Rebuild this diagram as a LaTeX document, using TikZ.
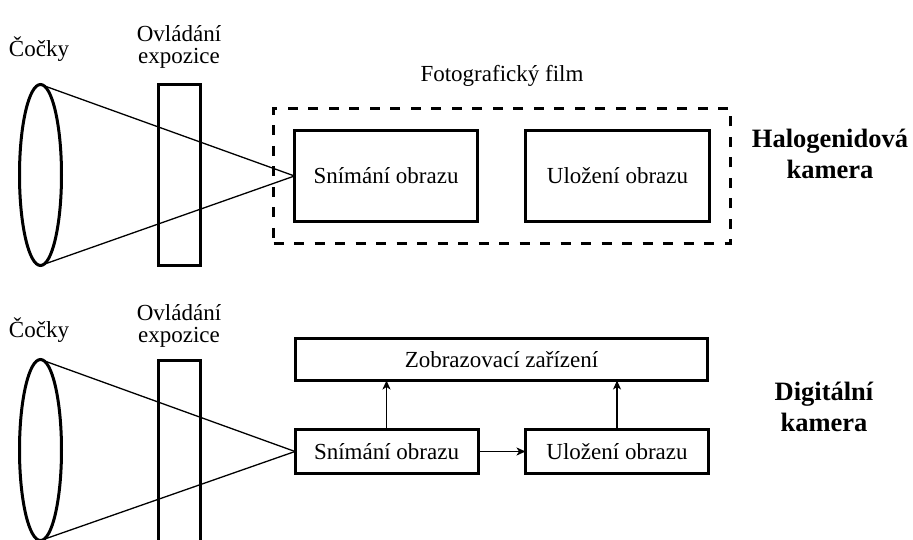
\documentclass[tikz,border=0pt]{standalone}
\usepackage{fontspec}
\setmainfont{Liberation Serif}
\usetikzlibrary{shapes.geometric,arrows.meta}
\begin{document}
\begin{tikzpicture}[x=1pt,y=-1pt,
  thickbox/.style={draw,line width=3pt,inner sep=0pt,outer sep=0pt},
  lensshape/.style={ellipse,draw,line width=3pt,inner sep=0pt,outer sep=0pt,
    minimum width=42pt,minimum height=181pt},
  shutter/.style={thickbox,minimum width=42pt,minimum height=181pt},
  filmframe/.style={draw,line width=3pt,dash pattern=on 10pt off 10.5pt,
    inner sep=0pt,outer sep=0pt,minimum width=457pt,minimum height=135pt},
  txt/.style={font=\fontsize{23}{22}\selectfont,inner sep=0pt,align=center},
  title/.style={font=\bfseries\fontsize{26.5}{31}\selectfont,inner sep=0pt,align=center},
  ray/.style={line width=1.3pt},
  conn/.style={line width=1.4pt,-{Stealth[length=9pt,width=8pt,inset=2.5pt]}},
]
\useasboundingbox (0,0) rectangle (913,540);
\clip (0,0) rectangle (913,540);

% ---- silver-halide camera ----
\node[lensshape] (lens1) at (40.5,175) {};
\node[shutter] (exp1) at (179.5,175) {};
\node[filmframe] (film) at (502,176) {};
\node[thickbox,txt,minimum width=183pt,minimum height=91pt] (snim1) at (386,176) {Snímání obrazu};
\node[thickbox,txt,minimum width=184pt,minimum height=91pt] (ulo1) at (617.5,176) {Uložení obrazu};
\draw[ray] (lens1.north) -- (snim1.west);
\draw[ray] (lens1.south) -- (snim1.west);

% two-line labels sit on the baseline of their last line
\node[txt,anchor=base] (cock1) at (39,57) {Čočky};
\node[txt,anchor=base] (ovl1) at (179,64) {Ovládání\\expozice};
\node[txt,anchor=base] (filmlbl) at (502,82) {Fotografický film};
\node[title,anchor=base] (halo) at (830,179) {Halogenidová\\kamera};

% ---- digital camera ----
\node[lensshape] (lens2) at (40.5,450) {};
\node[thickbox,minimum width=42pt,minimum height=240pt,anchor=north] (exp2) at (179.5,360.5) {};
\node[thickbox,txt,minimum width=412pt,minimum height=42pt] (zobr) at (501.5,359.5) {Zobrazovací zařízení};
\node[thickbox,txt,minimum width=183pt,minimum height=44pt] (snim2) at (386.5,451.5) {Snímání obrazu};
\node[thickbox,txt,minimum width=183pt,minimum height=44pt] (ulo2) at (617,451.5) {Uložení obrazu};
\draw[ray] (lens2.north) -- (snim2.west);
\draw[ray] (lens2.south) -- (snim2.west);
\draw[conn] (snim2.north) -- (snim2.north |- zobr.south);
\draw[conn] (ulo2.north) -- (ulo2.north |- zobr.south);
\draw[conn] (snim2.east) -- (ulo2.west);

\node[txt,anchor=base] (cock2) at (39,337) {Čočky};
\node[txt,anchor=base] (ovl2) at (179,342) {Ovládání\\expozice};
\node[title,anchor=base] (digi) at (824,431) {Digitální\\kamera};
\end{tikzpicture}
\end{document}
